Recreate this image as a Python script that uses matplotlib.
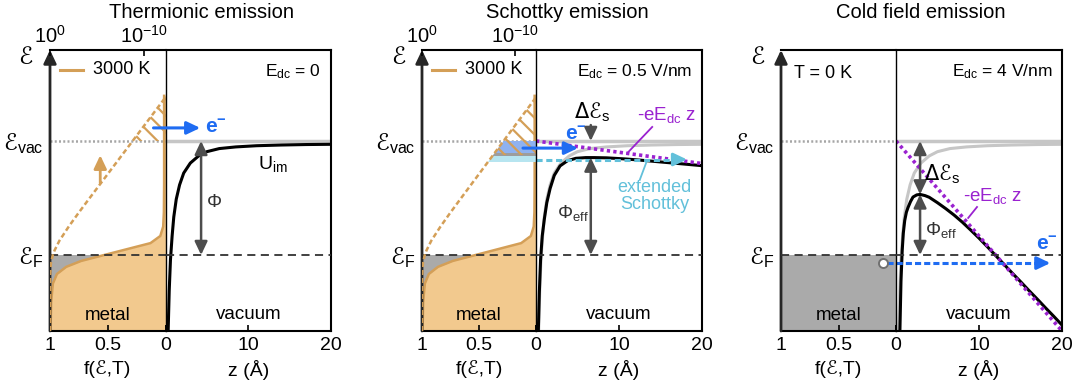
import matplotlib
matplotlib.use("Agg")
import matplotlib.pyplot as plt
from matplotlib.path import Path
from matplotlib.ticker import NullLocator

plt.rcParams["font.family"] = ["Liberation Sans", "DejaVu Sans"]
plt.rcParams["mathtext.fontset"] = "custom"
plt.rcParams["mathtext.rm"] = "Liberation Sans"
plt.rcParams["mathtext.it"] = "Liberation Sans:italic"
plt.rcParams["mathtext.bf"] = "Liberation Sans:bold"
plt.rcParams["mathtext.default"] = "regular"
plt.rcParams["hatch.linewidth"] = 1.6

TAN = "#d49f57"
TAN_FILL = "#f2c98e"
GRAY_FILL = "#aaaaaa"
LGRAY = "#c6c6c6"
DGRAY = "#4d4d4d"
BLUE = "#1f6cf2"
PURPLE = "#9a22d0"
CYAN = "#62c0da"
BLUE_BAND = "#8fb2f0"
CYAN_BAND = "#b7e5f0"

# energies in eV, Fermi level at zero
E_F = 0.0
E_VAC = 4.8
E_LIM = (-3.2, 8.63)

# Fermi-Dirac occupation at 3000 K (linear f axis)
fd_E = [-3.2, -2.0, -1.2, -0.8, -0.5, -0.25, 0.0, 0.25, 0.5, 0.8, 1.2, 1.8, 3.0, 5.0, 6.7]
fd_f = [0.995, 0.99, 0.975, 0.94, 0.86, 0.73, 0.53, 0.33, 0.13, 0.045, 0.02,
        0.014, 0.012, 0.012, 0.012]

# same occupation on the log axis (top)
log_f = [1.0, 0.955, 0.8, 0.5, 0.32, 0.1, 1e-2, 1e-3, 1e-4, 1e-6, 1e-8, 1e-10, 1e-12, 5e-13]
log_E = [-3.2, -0.8, -0.35, 0.0, 0.2, 0.6, 1.2, 1.75, 2.28, 3.33, 4.38, 5.43, 6.48, 6.64]
F_MIN = 5e-13

# image-charge potential, no field
z_im = [0.32, 0.45, 0.6, 0.8, 1.0, 1.3, 1.7, 2.2, 3.0, 4.0, 5.0, 6.5, 8.5, 11, 14, 17, 20]
U_im = [-3.2, -1.5, -0.2, 0.8, 1.6, 2.35, 2.95, 3.45, 3.87, 4.17, 4.35, 4.48, 4.55,
        4.6, 4.63, 4.65, 4.66]

# Schottky barrier, 0.5 V/nm
z_sch = [0.28, 0.4, 0.55, 0.75, 1.0, 1.3, 1.7, 2.2, 2.9, 3.8, 4.8, 6.0, 7.0, 8.5,
         10.9, 13, 14.9, 17.5, 20]
U_sch = [-3.2, -1.6, -0.2, 0.8, 1.5, 2.2, 2.8, 3.35, 3.75, 3.97, 4.07, 4.1, 4.1,
         4.09, 4.04, 3.98, 3.92, 3.84, 3.76]
E_TOP_SCH = 4.1
line_sch = [4.8, 3.85]

# cold field barrier, 4 V/nm
z_cf = [0.47, 0.6, 0.75, 0.88, 1.05, 1.25, 1.45, 1.75, 2.05, 2.5, 2.9, 3.5, 4.0, 5.0,
        6.0, 7.0, 8.0, 9.0, 10.0, 11.0, 12.0, 13.0, 14.0, 15.0, 16.0, 17.0, 18.0,
        19.0, 20.0]
U_cf = [-3.2, -1.1, 0.2, 0.92, 1.45, 1.8, 2.0, 2.25, 2.44, 2.53, 2.55, 2.5, 2.43,
        2.2, 1.95, 1.68, 1.38, 1.05, 0.71, 0.35, -0.02, -0.39, -0.76, -1.12, -1.49,
        -1.85, -2.22, -2.58, -2.95]
E_TOP_CF = 2.55
line_cf = [4.8, -3.2]
z_line = [0, 20]

W, H = 1081, 389
fig = plt.figure(figsize=(W / 100, H / 100), dpi=100)

ARROW2 = "<|-|>,head_length=0.8,head_width=0.38"
ARROW1 = "-|>,head_length=0.8,head_width=0.38"


def frame(x0, xm, x1, title, title_x, log_top):
    b, h = 1 - 331 / H, 281 / H
    axl = fig.add_axes([x0 / W, b, (xm - x0) / W, h])
    axlog = axl.twiny() if log_top else None
    axr = fig.add_axes([xm / W, b, (x1 - xm) / W, h])

    axl.set_xlim(1, 0)
    axl.set_ylim(*E_LIM)
    axl.set_xticks([1, 0.5, 0], ["1", "0.5", "0"])
    axl.set_yticks([E_F, E_VAC])
    axl.set_yticklabels(["ℰ$_{\\mathrm{F}}$", "ℰ$_{\\mathrm{vac}}$"],
                        family="DejaVu Sans", fontsize=16.5)
    axl.tick_params(axis="y", length=0, pad=5)
    axl.tick_params(axis="x", direction="in", length=4, width=1.2, pad=4, labelsize=14)
    axl.spines[["left", "right"]].set_visible(False)
    axl.spines[["top", "bottom"]].set_linewidth(1.5)
    axl.set_xlabel("f(ℰ,T)", fontsize=14, labelpad=5)

    axr.set_xlim(0, 20)
    axr.set_ylim(*E_LIM)
    axr.set_xticks([0, 10, 20], ["", "10", "20"])
    axr.set_yticks([])
    axr.tick_params(axis="x", direction="in", length=4, width=1.2, pad=4, labelsize=14)
    axr.spines["left"].set_linewidth(1.0)
    axr.spines[["top", "right", "bottom"]].set_linewidth(1.5)
    axr.set_xlabel("z (Å)", fontsize=14, labelpad=5)

    if axlog is not None:
        axlog.set_xscale("log")
        axlog.set_xlim(1, F_MIN)
        axlog.set_xticks([1, 1e-10], ["$10^{0}$", "$10^{-10}$"])
        axlog.xaxis.set_minor_locator(NullLocator())
        axlog.tick_params(axis="x", direction="in", length=4, width=1.2, pad=2,
                          labelsize=14.5)
        for s in axlog.spines.values():
            s.set_visible(False)

    # energy axis arrow
    axl.annotate("", xy=(0, 1), xytext=(0, 0), xycoords="axes fraction",
                 arrowprops=dict(arrowstyle=ARROW1, color="#262626", lw=2,
                                 shrinkA=0, shrinkB=0), annotation_clip=False)
    axl.text(-0.21, 0.975, "ℰ", transform=axl.transAxes, family="DejaVu Sans",
             fontsize=17, ha="center", va="center")

    # Fermi and vacuum levels
    axl.plot([1, 0], [E_VAC, E_VAC], color="#a6a6a6", lw=1.8, ls=(0, (0.8, 0.9)))
    axr.plot([0, 20], [E_VAC, E_VAC], color=LGRAY, lw=2.5)

    axl.text(0.5, -2.55, "metal", ha="center", va="center", fontsize=13.5)
    axr.text(10, -2.5, "vacuum", ha="center", va="center", fontsize=13.5)
    fig.text(title_x / W, 1 - 17.5 / H, title, ha="center", va="baseline", fontsize=14.5)
    return axl, axlog, axr


def fermi_line(axl, axr):
    axl.plot([1, 0], [E_F, E_F], color="#333333", lw=1.3, dashes=(4.5, 3), zorder=4)
    axr.plot([0, 20], [E_F, E_F], color="#333333", lw=1.3, dashes=(4.5, 3), zorder=4)


def hot_metal(axl, axlog):
    axl.fill_betweenx([E_LIM[0], E_F], 0, 1, color=GRAY_FILL, lw=0)
    axl.fill_betweenx(fd_E, 0, fd_f, color=TAN_FILL, lw=0)
    axl.plot(fd_f, fd_E, color=TAN, lw=1.8)
    axlog.plot(log_f, log_E, color=TAN, lw=1.8, dashes=(2, 1.2))
    axl.plot([0.913, 0.713], [7.79, 7.79], color=TAN, lw=2.2)
    axl.text(0.626, 7.79, "3000 K", fontsize=13, va="center", ha="left")


def tail_strip(axlog, lo, hi, **kw):
    # strip between the log-scale tail and the f = 0 side, clipped to the tail
    verts = list(zip(log_f, log_E)) + [(F_MIN, log_E[-1]), (F_MIN, log_E[0])]
    coll = axlog.fill_between([1, F_MIN], lo, hi, **kw)
    coll.set_clip_path(Path(verts), axlog.transData)
    return coll


def gap_arrow(ax, z, e0, e1):
    ax.annotate("", xy=(z, e1), xytext=(z, e0),
                arrowprops=dict(arrowstyle=ARROW2, color=DGRAY, lw=1.8,
                                shrinkA=0, shrinkB=0))


# ---- thermionic emission
axl, axlog, axr = frame(50, 165.5, 331, "Thermionic emission", 201, True)
hot_metal(axl, axlog)
tail_strip(axlog, E_VAC, 7.5, facecolor="none", edgecolor=TAN, lw=0, hatch="\\\\")
axl.annotate("", xy=(0.565, 4.2), xytext=(0.565, 3.03),
             arrowprops=dict(arrowstyle=ARROW1, color=TAN, lw=2, shrinkA=0, shrinkB=0))
fermi_line(axl, axr)
axr.plot(z_im, U_im, color="black", lw=2.2)
gap_arrow(axr, 4.3, E_F, E_VAC)
axr.text(5.0, 2.23, "Φ", fontsize=13.5, ha="left", va="center", color="#333333")
axr.text(11.2, 3.85, "U$_{\\mathrm{im}}$", fontsize=14, ha="left", va="center")
axr.text(18.8, 7.7, "E$_{\\mathrm{dc}}$ = 0", fontsize=12.5, ha="right", va="center")
axr.annotate("", xy=(4.2, 5.35), xytext=(-1.45, 5.35), annotation_clip=False,
             arrowprops=dict(arrowstyle=ARROW1, color=BLUE, lw=2.2, shrinkA=0, shrinkB=0))
axr.text(4.8, 5.4, "e$^{-}$", color=BLUE, fontsize=15, fontweight="bold",
         ha="left", va="center")

# ---- Schottky emission
axl, axlog, axr = frame(422, 536, 702, "Schottky emission", 567, True)
hot_metal(axl, axlog)
tail_strip(axlog, 4.28, E_VAC, color=BLUE_BAND, lw=0)
tail_strip(axlog, 4.16, 4.28, color="#9d9d9d", lw=0)
tail_strip(axlog, 3.9, 4.16, color=CYAN_BAND, lw=0)
tail_strip(axlog, 4.2, 7.5, facecolor="none", edgecolor=TAN, lw=0, hatch="\\\\")
fermi_line(axl, axr)
axr.plot(z_im, U_im, color=LGRAY, lw=2.2)
axr.plot(z_sch, U_sch, color="black", lw=2.2)
axr.plot(z_line, line_sch, color=PURPLE, lw=2.6, dashes=(0.9, 0.9),
         dash_capstyle="butt")
axr.plot([0, 17.2], [4.02, 4.02], color=CYAN, lw=2.2, dashes=(2, 1.2))
axr.annotate("", xy=(18.2, 4.02), xytext=(17.0, 4.02),
             arrowprops=dict(arrowstyle=ARROW1, color=CYAN, lw=2.2, shrinkA=0, shrinkB=0))
axr.annotate("", xy=(5.06, 4.5), xytext=(-1.57, 4.5), annotation_clip=False,
             arrowprops=dict(arrowstyle=ARROW1, color=BLUE, lw=2.2, shrinkA=0, shrinkB=0))
axr.text(3.5, 5.1, "e$^{-}$", color=BLUE, fontsize=15, fontweight="bold",
         ha="left", va="center")
axr.annotate("", xy=(6.6, E_VAC), xytext=(6.6, 5.47),
             arrowprops=dict(arrowstyle=ARROW1, color=DGRAY, lw=1.8, shrinkA=0, shrinkB=0))
axr.text(6.8, 6.0, "Δℰ$_{\\mathrm{s}}$", family="DejaVu Sans", fontsize=15,
         ha="center", va="center")
gap_arrow(axr, 6.6, E_F, E_TOP_SCH)
axr.text(6.3, 1.77, "Φ$_{\\mathrm{eff}}$", fontsize=13.5, ha="right", va="center",
         color="#333333")
axr.text(15.8, 5.9, "-eE$_{\\mathrm{dc}}$ z", color=PURPLE, fontsize=13.5,
         ha="center", va="center")
axr.plot([14.0, 11.0], [5.39, 4.29], color=PURPLE, lw=1.3)
axr.text(14.3, 2.48, "extended\nSchottky", color=CYAN, fontsize=13,
         ha="center", va="center", linespacing=1.0)
axr.plot([13.4, 12.5], [4.0, 3.16], color=CYAN, lw=1.3)
axr.text(18.8, 7.7, "E$_{\\mathrm{dc}}$ = 0.5 V/nm", fontsize=12.5, ha="right",
         va="center")

# ---- cold field emission
axl, _, axr = frame(781, 896, 1062, "Cold field emission", 921, False)
axl.fill_betweenx([E_LIM[0], E_F], 0, 1, color=GRAY_FILL, lw=0)
axl.text(0.887, 7.66, "T = 0 K", fontsize=13, ha="left", va="center")
fermi_line(axl, axr)
axr.plot(z_im, U_im, color=LGRAY, lw=2.2)
axr.plot(z_cf, U_cf, color="black", lw=2.2)
axr.plot(z_line, line_cf, color=PURPLE, lw=2.6, dashes=(0.9, 0.9),
         dash_capstyle="butt")
gap_arrow(axr, 2.9, E_TOP_CF, E_VAC)
gap_arrow(axr, 2.9, E_F, E_TOP_CF)
axr.text(5.5, 3.4, "Δℰ$_{\\mathrm{s}}$", family="DejaVu Sans", fontsize=15,
         ha="center", va="center")
axr.text(3.5, 1.05, "Φ$_{\\mathrm{eff}}$", fontsize=13.5, ha="left", va="center",
         color="#333333")
axr.text(11.6, 2.5, "-eE$_{\\mathrm{dc}}$ z", color=PURPLE, fontsize=13.5,
         ha="center", va="center")
axr.plot([9.76, 8.7], [2.02, 1.56], color=PURPLE, lw=1.3)
axr.plot([-1.1, 17.6], [-0.34, -0.34], color=BLUE, lw=2.2, dashes=(2, 1),
         clip_on=False)
axr.annotate("", xy=(18.6, -0.34), xytext=(17.3, -0.34),
             arrowprops=dict(arrowstyle=ARROW1, color=BLUE, lw=2.2, shrinkA=0, shrinkB=0))
axr.plot([-1.57], [-0.34], "o", mfc="white", mec="#707070", ms=6.5, mew=1.4,
         clip_on=False, zorder=6)
axr.text(18.2, 0.5, "e$^{-}$", color=BLUE, fontsize=15, fontweight="bold",
         ha="center", va="center")
axr.text(18.9, 7.7, "E$_{\\mathrm{dc}}$ = 4 V/nm", fontsize=12.5, ha="right",
         va="center")

fig.savefig("out.png", dpi=100)
